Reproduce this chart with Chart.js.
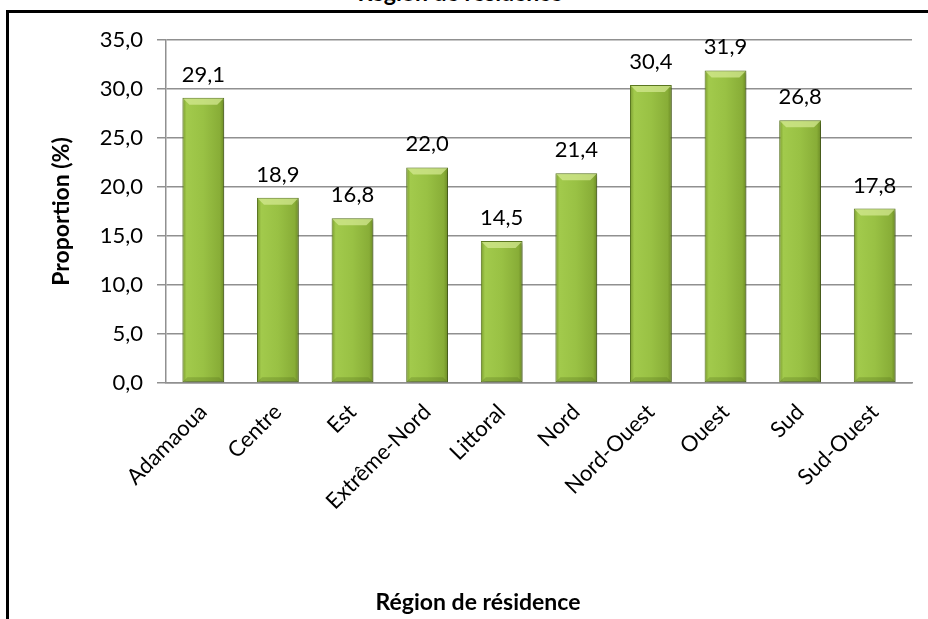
<!DOCTYPE html>
<html>
<head>
<meta charset="utf-8">
<script src="https://cdn.jsdelivr.net/npm/chart.js@4.4.1/dist/chart.umd.min.js"></script>
<style>
  body { margin: 0; background: #fff; }
  #wrap { position: relative; width: 928px; height: 619px; overflow: hidden; }
  #cadre { position: absolute; left: 6px; top: 10px; width: 1000px; height: 700px;
           border-left: 3px solid #000; border-top: 3px solid #000; }
  #titre-haut { position: absolute; left: 0; width: 920px; top: -19px; text-align: center;
                font: bold 23px Lato, sans-serif; color: #000; line-height: 22px; }
  canvas { position: absolute; left: 0; top: 0; }
</style>
</head>
<body>
<div id="wrap">
  <div id="cadre"></div>
  <div id="titre-haut">Région de résidence</div>
  <canvas id="graphique" width="928" height="619"></canvas>
</div>
<script>
// Données
const regions = ['Adamaoua', 'Centre', 'Est', 'Extrême-Nord', 'Littoral', 'Nord',
                 'Nord-Ouest', 'Ouest', 'Sud', 'Sud-Ouest'];
const proportions = [29.1, 18.9, 16.8, 22.0, 14.5, 21.4, 30.4, 31.9, 26.8, 17.8];
const graduations = [0, 5, 10, 15, 20, 25, 30, 35];

const largeurBarre = 0.56;
const police = 'Lato, sans-serif';
const gris = '#909090';

// format français : 29,1
const virgule = v => Number(v).toFixed(1).replace('.', ',');

// Dégradé horizontal sur chaque barre
function remplissage(c) {
  const chart = c.chart;
  const sx = chart.scales.x;
  if (!sx || !chart.chartArea) return '#8db33a';
  const cx = sx.getPixelForValue(c.dataIndex);
  const w = (sx.width / regions.length) * largeurBarre;
  const g = chart.ctx.createLinearGradient(cx - w / 2, 0, cx + w / 2, 0);
  g.addColorStop(0, '#7a9b2e');
  g.addColorStop(0.1, '#a2ca4c');
  g.addColorStop(0.5, '#99c144');
  g.addColorStop(0.9, '#88ad37');
  g.addColorStop(1, '#6b8a24');
  return g;
}

// Ombre + biseau + étiquettes de valeur
const effetsBarres = {
  id: 'effetsBarres',
  beforeDatasetsDraw(chart) {
    const ctx = chart.ctx;
    ctx.save();
    ctx.shadowColor = 'rgba(0,0,0,0.35)';
    ctx.shadowOffsetX = 2;
    ctx.shadowOffsetY = 2;
    ctx.shadowBlur = 4;
  },
  afterDatasetsDraw(chart) {
    const ctx = chart.ctx;
    ctx.restore();
    const meta = chart.getDatasetMeta(0);
    meta.data.forEach((bar, i) => {
      const l = bar.x - bar.width / 2, r = bar.x + bar.width / 2, t = bar.y, b = bar.base;
      const e = 7;
      // biseau du haut
      ctx.fillStyle = 'rgba(215,235,150,0.7)';
      ctx.beginPath();
      ctx.moveTo(l + 1, t + 1); ctx.lineTo(r - 1, t + 1);
      ctx.lineTo(r - e, t + e); ctx.lineTo(l + e, t + e);
      ctx.closePath(); ctx.fill();
      // biseau du bas
      ctx.fillStyle = 'rgba(70,95,20,0.25)';
      ctx.beginPath();
      ctx.moveTo(l + 1, b - 1); ctx.lineTo(r - 1, b - 1);
      ctx.lineTo(r - 5, b - 5); ctx.lineTo(l + 5, b - 5);
      ctx.closePath(); ctx.fill();
      // valeur
      ctx.fillStyle = '#000';
      ctx.font = '22px ' + police;
      ctx.textAlign = 'center';
      ctx.textBaseline = 'bottom';
      ctx.fillText(virgule(proportions[i]), bar.x, t - 12);
    });
  }
};

new Chart(document.getElementById('graphique'), {
  type: 'bar',
  data: {
    labels: regions,
    datasets: [{
      data: proportions,
      backgroundColor: remplissage,
      borderColor: '#5e7b22',
      borderWidth: 1,
      borderSkipped: false,
      barPercentage: largeurBarre,
      categoryPercentage: 1
    }]
  },
  options: {
    responsive: false,
    animation: false,
    layout: { padding: { left: 44, right: 16, top: 40, bottom: 0 } },
    plugins: {
      legend: { display: false },
      tooltip: { enabled: false },
      title: {
        display: true,
        position: 'bottom',
        text: 'Région de résidence',
        color: '#000',
        font: { family: police, size: 23, weight: 'bold' },
        padding: { top: 0, bottom: 3 }
      }
    },
    scales: {
      x: {
        grid: { display: false },
        border: { display: true, color: gris, width: 1.5 },
        ticks: {
          color: '#000',
          font: { family: police, size: 22 },
          maxRotation: 45,
          minRotation: 45,
          padding: 8
        },
        afterFit: s => { s.height = 619 - 383 - 30.6; }
      },
      y: {
        min: 0,
        max: 35,
        afterBuildTicks: s => { s.ticks = graduations.map(v => ({ value: v })); },
        grid: { color: gris, lineWidth: 1.5, tickColor: gris, tickLength: 9 },
        border: { display: true, color: gris, width: 1.5 },
        ticks: {
          color: '#000',
          font: { family: police, size: 22 },
          padding: 14,
          callback: v => virgule(v)
        },
        title: {
          display: true,
          text: 'Proportion (%)',
          color: '#000',
          font: { family: police, size: 23, weight: 'bold' }
        },
        afterFit: s => { s.width = 166 - 44; }
      }
    }
  },
  plugins: [effetsBarres]
});
</script>
</body>
</html>
